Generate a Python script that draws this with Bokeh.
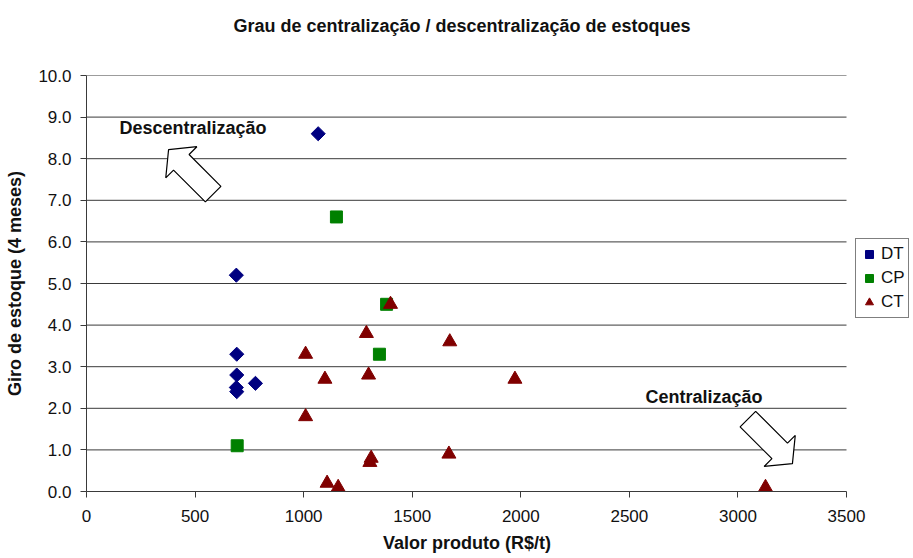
import math
from bokeh.plotting import figure
from bokeh.models import (Legend, LegendItem, Range1d, FixedTicker, LinearAxis,
                          NumeralTickFormatter, Label)
from bokeh.embed import file_html
from bokeh.resources import INLINE

# ---- data ----
dt_x = [1067, 690, 692, 692, 778, 690, 692]
dt_y = [8.6, 5.2, 3.3, 2.8, 2.6, 2.5, 2.4]

cp_x = [1151, 1382, 1349, 694]
cp_y = [6.6, 4.5, 3.3, 1.1]

ct_x = [1400, 1289, 1673, 1009, 1299, 1098, 1973, 1009, 1669, 1311, 1305, 1108, 1159, 3127]
ct_y = [4.5, 3.8, 3.6, 3.3, 2.8, 2.7, 2.7, 1.8, 0.9, 0.8, 0.7, 0.2, 0.1, 0.1]

x_ticks = [0, 500, 1000, 1500, 2000, 2500, 3000, 3500]
y_ticks = [0, 1, 2, 3, 4, 5, 6, 7, 8, 9, 10]

TITLE = "Grau de centralização / descentralização de estoques"
XLABEL = "Valor produto (R$/t)"
YLABEL = "Giro de estoque (4 meses)"

FONT = "Liberation Sans"
XMAX, YMAX = 3500, 10
PX_PER_X = 760 / XMAX          # plot-area scale
FW, FH = 826, 416              # frame also holds the legend on the right
XR = FW / PX_PER_X
NBSP = "\u00a0"                # trailing padding shifts centred labels over the plot area

p = figure(output_backend="svg", toolbar_location=None,
           frame_width=FW, frame_height=FH,
           x_range=Range1d(0, XR), y_range=Range1d(0, YMAX),
           min_border_left=86, min_border_top=75, min_border_bottom=65, min_border_right=0)

p.outline_line_color = None
p.background_fill_color = "white"
p.border_fill_color = "white"
p.xgrid.visible = False
p.ygrid.visible = False

# horizontal gridlines limited to the plot area
p.segment(x0=[0] * (len(y_ticks) - 1), x1=[XMAX] * (len(y_ticks) - 1),
          y0=y_ticks[1:], y1=y_ticks[1:], line_color="#3a3a3a", line_width=1)

p.xaxis.ticker = FixedTicker(ticks=x_ticks)
p.yaxis.ticker = FixedTicker(ticks=y_ticks)
p.xaxis.bounds = (0, XMAX)
p.yaxis.formatter = NumeralTickFormatter(format="0.0")
p.xaxis.formatter = NumeralTickFormatter(format="0")
for ax in (p.xaxis, p.yaxis):
    ax.axis_line_color = "#3a3a3a"
    ax.major_tick_line_color = "#3a3a3a"
    ax.major_tick_out = 6
    ax.major_tick_in = 0
    ax.minor_tick_line_color = None
    ax.major_label_text_font = FONT
    ax.major_label_text_font_size = "17px"
    ax.major_label_text_color = "#111111"
    ax.axis_label_text_font = FONT
    ax.axis_label_text_font_size = "18px"
    ax.axis_label_text_font_style = "bold"
    ax.axis_label_text_color = "#111111"
p.xaxis.axis_label = XLABEL + NBSP * 13
p.yaxis.axis_label = YLABEL
p.xaxis.major_label_standoff = 12
p.xaxis.axis_label_standoff = 8
p.yaxis.major_label_standoff = 9
p.yaxis.axis_label_standoff = 10

# ---- title, as the label of a bare axis above the plot ----
tax = LinearAxis(bounds=(0, XMAX), ticker=FixedTicker(ticks=[]),
                 axis_line_color=None, major_tick_line_color=None, minor_tick_line_color=None,
                 major_label_text_font_size="0px",
                 axis_label=TITLE + NBSP * 15,
                 axis_label_text_font=FONT, axis_label_text_font_size="18px",
                 axis_label_text_font_style="bold", axis_label_text_color="#111111",
                 axis_label_standoff=40)
p.add_layout(tax, "above")

# ---- block arrows (geometry in pixels, anchored at a data tip) ----
sx = PX_PER_X
sy = FH / YMAX

def block_arrow(tip_x, tip_y, ang_deg, length=63, head_len=18, head_half=22, tail_half=11):
    a = math.radians(ang_deg)
    ux, uy = math.cos(a), math.sin(a)
    nx, ny = -uy, ux
    pts = [
        (0, 0),
        (-head_len * ux + head_half * nx, -head_len * uy + head_half * ny),
        (-head_len * ux + tail_half * nx, -head_len * uy + tail_half * ny),
        (-length * ux + tail_half * nx, -length * uy + tail_half * ny),
        (-length * ux - tail_half * nx, -length * uy - tail_half * ny),
        (-head_len * ux - tail_half * nx, -head_len * uy - tail_half * ny),
        (-head_len * ux - head_half * nx, -head_len * uy - head_half * ny),
    ]
    xs = [tip_x + px / sx for px, py in pts]
    ys = [tip_y + py / sy for px, py in pts]
    return xs, ys

ax1, ay1 = block_arrow(378, 8.22, 135)
ax2, ay2 = block_arrow(3251, 0.67, -45)
p.patches(xs=[ax1, ax2], ys=[ay1, ay2], fill_color="white", line_color="black", line_width=1.2)

p.add_layout(Label(x=152, y=8.73, text="Descentralização", text_font=FONT, text_font_size="18px",
                   text_font_style="bold", text_baseline="middle", text_color="#111111"))
p.add_layout(Label(x=2574, y=2.28, text="Centralização", text_font=FONT, text_font_size="18px",
                   text_font_style="bold", text_baseline="middle", text_color="#111111"))

# ---- series ----
r_dt = p.scatter(dt_x, dt_y, marker="square", angle=math.pi / 4, size=10,
                 fill_color="#000080", line_color="#000080")
r_cp = p.scatter(cp_x, cp_y, marker="square", size=12, fill_color="#008000", line_color="#008000")
r_ct = p.scatter(ct_x, ct_y, marker="triangle", size=14, fill_color="#800000", line_color="#800000")

legend = Legend(items=[LegendItem(label="DT", renderers=[r_dt]),
                       LegendItem(label="CP", renderers=[r_cp]),
                       LegendItem(label="CT", renderers=[r_ct])],
                location=(769, 173), margin=0, padding=3, spacing=0,
                glyph_width=20, glyph_height=24, label_standoff=2,
                label_text_font=FONT, label_text_font_size="17px", label_text_color="#111111",
                label_height=24,
                border_line_color="black", border_line_width=1,
                background_fill_color="white")
p.add_layout(legend)

open("out.html", "w").write(file_html(p, INLINE))
